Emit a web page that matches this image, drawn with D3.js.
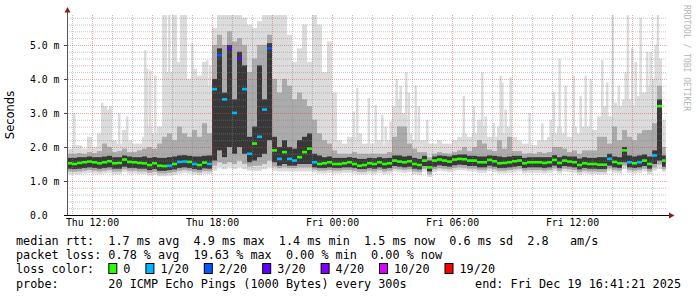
<!DOCTYPE html>
<html lang="en">
<head>
<meta charset="UTF-8">
<title>SmokePing latency</title>
<script src="https://d3js.org/d3.v7.min.js"></script>
<style>
  body { margin: 0; background: #fff; }
  svg text { font-family: "DejaVu Sans Mono", monospace; }
</style>
</head>
<body>
<div id="graph"></div>
<script>
// 15 minute steps, hours counted from Thu 00:00
const startHour = 10.75;
const stepHours = 0.25;
const endHour = 40.689; // Fri 16:41:21

const median = [
  1.52,1.50,1.53,1.55,1.57,1.55,1.52,1.55,1.58,1.52,
  1.53,1.63,1.56,1.55,1.53,1.52,1.47,1.52,1.45,1.44,
  1.45,1.50,1.56,1.57,1.56,1.50,1.47,1.54,1.50,3.70,
  4.70,3.40,4.90,3.00,4.60,3.70,1.80,2.10,2.30,3.10,
  4.90,1.90,1.65,1.85,1.65,1.60,1.70,1.85,1.95,1.55,
  1.50,1.52,1.55,1.50,1.50,1.52,1.55,1.50,1.45,1.47,
  1.52,1.50,1.55,1.50,1.52,1.60,1.57,1.55,1.58,1.50,
  1.47,1.60,1.40,1.60,1.63,1.60,1.57,1.63,1.65,1.64,
  1.60,1.60,1.55,1.55,1.62,1.58,1.52,1.53,1.55,1.58,
  1.60,1.52,1.55,1.55,1.55,1.53,1.55,1.62,1.53,1.60,
  1.57,1.55,1.47,1.52,1.50,1.50,1.48,1.48,1.65,1.56,
  1.52,1.90,1.55,1.52,1.55,1.60,1.50,1.75,3.20,1.60
];
// index into lossLabels / lossColors
const loss = [
  0,0,0,0,0,0,0,0,0,0,
  0,0,0,0,0,0,0,0,0,0,
  1,0,1,1,0,1,0,0,1,1,
  2,1,3,1,3,1,1,0,1,1,
  2,0,1,0,1,1,0,0,0,1,
  0,0,0,0,0,0,0,0,0,0,
  0,0,0,0,0,0,0,0,0,0,
  0,0,0,0,0,0,0,0,0,0,
  0,0,0,0,0,0,0,0,0,0,
  0,0,0,0,0,0,0,0,0,0,
  0,0,0,0,0,0,0,0,1,0,
  0,0,1,0,1,0,0,1,0,0
];
// ping distribution per step (ms)
const pingMin = [
  1.20,1.19,1.20,1.22,1.24,1.22,1.20,1.22,1.24,1.20,
  1.20,1.26,1.22,1.22,1.20,1.20,1.16,1.19,1.14,1.14,
  1.16,1.18,1.22,1.24,1.22,1.19,1.17,1.21,1.20,1.30,
  1.40,1.35,1.40,1.35,1.40,1.35,1.30,1.30,1.30,1.35,
  1.40,1.30,1.28,1.28,1.28,1.28,1.28,1.28,1.28,1.25,
  1.22,1.22,1.24,1.22,1.22,1.24,1.24,1.22,1.19,1.19,
  1.22,1.20,1.24,1.20,1.22,1.28,1.26,1.24,1.26,1.20,
  1.18,1.28,1.12,1.26,1.30,1.28,1.26,1.30,1.32,1.31,
  1.28,1.28,1.24,1.24,1.29,1.26,1.22,1.22,1.24,1.26,
  1.28,1.22,1.24,1.24,1.24,1.22,1.24,1.29,1.22,1.28,
  1.26,1.24,1.18,1.22,1.20,1.20,1.19,1.19,1.29,1.24,
  1.22,1.35,1.24,1.22,1.24,1.28,1.20,1.30,1.35,1.26
];
const pingP10 = [
  1.28,1.27,1.28,1.30,1.32,1.30,1.28,1.30,1.32,1.28,
  1.28,1.34,1.30,1.30,1.28,1.28,1.24,1.27,1.22,1.22,
  1.24,1.26,1.30,1.32,1.30,1.27,1.25,1.29,1.28,1.45,
  1.55,1.50,1.55,1.50,1.60,1.50,1.42,1.45,1.45,1.50,
  1.60,1.42,1.38,1.40,1.38,1.38,1.40,1.40,1.40,1.33,
  1.30,1.30,1.32,1.30,1.30,1.32,1.32,1.30,1.27,1.27,
  1.30,1.28,1.32,1.28,1.30,1.36,1.34,1.32,1.34,1.28,
  1.26,1.36,1.20,1.34,1.38,1.36,1.34,1.38,1.40,1.39,
  1.36,1.36,1.32,1.32,1.37,1.34,1.30,1.30,1.32,1.34,
  1.36,1.30,1.32,1.32,1.32,1.30,1.32,1.37,1.30,1.36,
  1.34,1.32,1.26,1.30,1.28,1.28,1.27,1.27,1.37,1.32,
  1.30,1.45,1.32,1.30,1.32,1.36,1.28,1.40,1.48,1.34
];
const pingQ1 = [
  1.36,1.35,1.36,1.38,1.40,1.38,1.36,1.38,1.40,1.36,
  1.36,1.42,1.38,1.38,1.36,1.36,1.32,1.35,1.30,1.30,
  1.32,1.34,1.38,1.40,1.38,1.35,1.33,1.37,1.36,1.60,
  1.90,1.70,2.00,1.80,2.00,1.80,1.55,1.60,1.70,1.80,
  2.20,1.55,1.45,1.50,1.45,1.45,1.50,1.50,1.50,1.40,
  1.38,1.38,1.40,1.38,1.38,1.40,1.40,1.38,1.35,1.35,
  1.38,1.36,1.40,1.36,1.38,1.44,1.42,1.40,1.42,1.36,
  1.34,1.44,1.28,1.42,1.46,1.44,1.42,1.46,1.48,1.47,
  1.44,1.44,1.40,1.40,1.45,1.42,1.38,1.38,1.40,1.42,
  1.44,1.38,1.40,1.40,1.40,1.38,1.40,1.45,1.38,1.44,
  1.42,1.40,1.34,1.38,1.36,1.36,1.35,1.35,1.45,1.40,
  1.38,1.55,1.40,1.38,1.40,1.44,1.36,1.50,1.60,1.42
];
const pingQ3 = [
  1.68,1.68,1.70,1.70,1.72,1.70,1.70,1.72,1.74,1.70,
  1.70,1.75,1.72,1.70,1.70,1.72,1.68,1.70,1.68,1.68,
  1.70,1.72,1.75,1.76,1.74,1.72,1.72,1.74,1.75,4.00,
  4.90,3.60,5.00,3.40,4.80,4.40,2.30,2.60,4.40,3.40,
  5.05,2.30,2.00,2.20,2.00,1.95,2.20,2.30,2.40,1.80,
  1.75,1.70,1.72,1.68,1.68,1.68,1.70,1.68,1.65,1.65,
  1.68,1.67,1.70,1.67,1.68,1.75,1.75,1.72,1.74,1.68,
  1.65,1.74,1.60,1.72,1.75,1.74,1.72,1.76,1.78,1.78,
  1.74,1.74,1.72,1.72,1.75,1.74,1.72,1.70,1.72,1.74,
  1.74,1.68,1.70,1.70,1.70,1.70,1.70,1.76,1.70,1.74,
  1.72,1.72,1.66,1.70,1.68,1.68,1.70,1.70,1.80,1.72,
  1.70,2.00,1.75,1.72,1.75,1.78,1.72,1.90,3.40,1.75
];
const pingP90 = [
  1.80,1.80,1.82,1.80,1.85,1.82,1.88,2.10,2.00,1.85,
  1.88,1.95,1.85,1.85,1.90,1.95,2.00,1.95,2.10,2.30,
  2.40,2.20,2.60,2.40,2.30,2.50,2.30,2.70,2.40,5.00,
  5.30,5.00,5.40,5.10,5.20,5.00,4.20,4.60,5.00,5.00,
  5.30,4.00,3.60,4.00,3.80,3.40,3.60,3.40,3.20,2.80,
  2.40,2.20,2.10,1.90,1.80,1.80,1.80,1.85,1.80,1.80,
  1.80,1.80,1.80,1.80,1.85,2.30,2.60,2.60,2.10,1.95,
  1.85,1.85,1.70,1.80,1.85,1.82,1.80,1.85,1.90,2.00,
  1.88,2.00,2.20,2.10,1.92,1.88,2.20,1.95,2.30,1.88,
  1.88,1.80,1.82,1.80,1.85,1.82,1.85,2.00,2.00,1.95,
  1.85,1.90,1.80,1.90,1.90,1.90,2.30,2.30,2.10,2.60,
  2.20,2.50,2.30,2.20,2.40,2.50,2.50,2.70,3.80,2.00
];
const pingMax = [
  1.95,2.05,2.05,1.95,2.30,2.00,2.40,3.20,3.10,2.20,
  2.10,2.50,2.20,2.10,2.10,2.30,2.60,2.40,2.60,5.90,
  4.20,5.90,4.50,5.90,4.00,4.30,4.10,4.50,3.80,5.50,
  5.90,5.90,5.90,5.90,5.90,5.80,5.60,5.50,5.70,5.90,
  5.90,5.90,5.90,5.90,5.30,4.50,4.90,5.60,4.50,5.90,
  5.60,4.20,5.10,3.60,2.20,2.10,2.30,2.30,2.40,2.10,
  2.10,2.10,2.20,2.05,2.20,3.20,3.40,3.00,2.40,2.20,
  2.20,2.20,2.10,2.10,2.20,2.10,2.10,2.20,2.30,2.40,
  2.30,2.40,2.80,2.60,2.30,2.30,2.60,2.40,2.60,2.30,
  2.20,2.10,2.10,2.05,2.20,2.20,2.30,2.40,2.60,2.40,
  2.30,2.60,2.40,2.60,2.60,2.50,2.90,3.20,2.90,3.30,
  3.20,3.40,3.40,3.20,3.50,3.60,3.80,4.00,4.60,2.80
];

// thin single outliers: time (h) and value (ms)
const spikeHours = [
  11.05,12.45,12.85,13.3,13.7,14.6,14.7,14.85,15.1,15.8,16.4,16.95,17.1,17.45,17.7,17.85,
  25.03,25.2,25.78,26.12,26.45,26.62,26.87,27.17,27.37,27.65,27.78,28.12,28.28,28.7,
  30.53,31.03,31.45,31.62,32.03,32.37,32.45,32.62,32.87,
  33.82,34.45,34.87,35.03,35.32,35.62,36.03,36.37,36.62,36.87,37.45,37.7,37.98,
  38.28,38.62,38.73,38.95,39.12,39.37,39.7,39.87,40.12,40.23
];
const spikeValues = [
  3.0,3.3,3.2,3.0,2.9,4.85,4.3,4.25,4.1,5.9,5.9,5.05,4.25,4.1,4.55,4.4,
  3.04,3.73,3.44,3.24,2.95,2.6,2.75,4.0,3.8,4.2,3.6,3.8,3.2,2.8,
  3.5,3.2,4.2,2.9,2.7,4.1,3.9,3.1,4.05,
  3.0,2.7,2.8,3.6,4.6,3.8,4.1,3.5,4.1,4.0,4.55,3.9,5.9,
  3.8,4.2,5.9,4.9,4.5,5.8,4.8,4.8,5.0,5.9
];

const lossLabels = ["0", "1/20", "2/20", "3/20", "4/20", "10/20", "19/20"];
const lossColors = ["#26ff00", "#00b8ff", "#0059ff", "#5e00ff", "#7e00ff", "#dd00ff", "#ff0000"];

const xLabelHours = [12, 18, 24, 30, 36];
const xLabelNames = ["Thu 12:00", "Thu 18:00", "Fri 00:00", "Fri 06:00", "Fri 12:00"];
const yTicks = [0, 1, 2, 3, 4, 5];

const legendRows = [
  "median rtt:  1.7 ms avg  4.9 ms max  1.4 ms min  1.5 ms now  0.6 ms sd  2.8   am/s",
  "packet loss: 0.78 % avg  19.63 % max  0.00 % min  0.00 % now",
];
const probeText = "probe:       20 ICMP Echo Pings (1000 Bytes) every 300s";
const endText = "end: Fri Dec 19 16:41:21 2025";

const width = 697, height = 297;
const svg = d3.select("#graph").append("svg")
  .attr("width", width).attr("height", height);

const x = d3.scaleLinear().domain([startHour, 40.75]).range([67, 667]);
const y = d3.scaleLinear().domain([0, 5.88]).range([215, 15]);

svg.append("defs").append("clipPath").attr("id", "plot")
  .append("rect")
  .attr("x", x(startHour)).attr("y", y(5.88))
  .attr("width", x(endHour) - x(startHour)).attr("height", y(0) - y(5.88));

const data = median.map((m, i) => ({
  t: startHour + i * stepHours,
  med: m, loss: loss[i],
  min: pingMin[i], p10: pingP10[i], q1: pingQ1[i],
  q3: pingQ3[i], p90: pingP90[i], max: pingMax[i]
}));
const stepW = x(startHour + stepHours) - x(startHour);

const smoke = svg.append("g").attr("clip-path", "url(#plot)");

// thin outliers
smoke.selectAll("rect.spike")
  .data(spikeHours.map((h, i) => ({ h: h, v: spikeValues[i] })))
  .join("rect")
  .attr("class", "spike")
  .attr("x", d => x(d.h))
  .attr("width", 2.5)
  .attr("y", d => y(d.v))
  .attr("height", d => y(1.4) - y(d.v))
  .attr("fill", "#dcdcdc");

function band(lo, hi, color) {
  smoke.append("g").selectAll("rect")
    .data(data)
    .join("rect")
    .attr("x", d => x(d.t))
    .attr("width", stepW)
    .attr("y", d => y(d[hi]))
    .attr("height", d => y(d[lo]) - y(d[hi]))
    .attr("fill", color);
}
band("min", "max", "#dcdcdc");
band("p10", "p90", "#ababab");
band("q1", "q3", "#383838");

// grid
const grid = svg.append("g");
const minorH = d3.range(1, 30).map(k => k * 0.2).filter(v => Math.abs(v - Math.round(v)) > 0.01);
const minorX = d3.range(11, 41).filter(h => h % 3 !== 0);
const majorX = d3.range(12, 41, 3);

grid.selectAll("line.hmin").data(minorH).join("line")
  .attr("x1", 67).attr("x2", 667)
  .attr("y1", d => y(d) + 0.5).attr("y2", d => y(d) + 0.5)
  .attr("stroke", "rgba(130,130,130,0.45)").attr("stroke-dasharray", "1,1");
grid.selectAll("line.vmin").data(minorX).join("line")
  .attr("x1", d => x(d) + 0.5).attr("x2", d => x(d) + 0.5)
  .attr("y1", 15).attr("y2", 217)
  .attr("stroke", "rgba(130,130,130,0.45)").attr("stroke-dasharray", "1,1");
grid.selectAll("line.hmaj").data(yTicks.slice(1)).join("line")
  .attr("x1", 64).attr("x2", 667)
  .attr("y1", d => y(d) + 0.5).attr("y2", d => y(d) + 0.5)
  .attr("stroke", "rgba(220,60,60,0.45)").attr("stroke-dasharray", "1,1");
grid.selectAll("line.vmaj").data(majorX).join("line")
  .attr("x1", d => x(d) + 0.5).attr("x2", d => x(d) + 0.5)
  .attr("y1", 15).attr("y2", 218)
  .attr("stroke", "rgba(220,60,60,0.45)").attr("stroke-dasharray", "1,1");

// median, coloured by loss
svg.append("g").attr("clip-path", "url(#plot)")
  .selectAll("rect").data(data).join("rect")
  .attr("x", d => x(d.t))
  .attr("width", stepW)
  .attr("y", d => y(d.med) - 1.3)
  .attr("height", 2.6)
  .attr("fill", d => lossColors[d.loss]);

// axes
const xAxis = svg.append("g")
  .attr("transform", `translate(0,${y(0)})`)
  .call(d3.axisBottom(x).tickValues(xLabelHours)
    .tickFormat((d, i) => xLabelNames[i]).tickSize(0).tickPadding(4));
xAxis.select(".domain").remove();
xAxis.selectAll("text").attr("font-size", "9.8px").attr("fill", "#000")
  .attr("font-family", "DejaVu Sans Mono");

const yAxis = svg.append("g")
  .attr("transform", `translate(${x(startHour)},0)`)
  .call(d3.axisLeft(y).tickValues(yTicks)
    .tickFormat(d => d === 0 ? "0.0" : d.toFixed(1) + " m").tickSize(3));
yAxis.select(".domain").remove();
yAxis.selectAll("line").attr("stroke", "#444");
yAxis.selectAll("text").attr("text-anchor", "start").attr("x", 30 - 67)
  .attr("font-size", "9.8px").attr("fill", "#000").attr("font-family", "DejaVu Sans Mono");

svg.append("line").attr("x1", 67.5).attr("x2", 67.5).attr("y1", 12).attr("y2", 216)
  .attr("stroke", "#555");
svg.append("line").attr("x1", 64).attr("x2", 670).attr("y1", 215.5).attr("y2", 215.5)
  .attr("stroke", "#000");
svg.append("path").attr("d", "M64.5,12.5 L67.5,7 L70.5,12.5 Z").attr("fill", "#8b1a1a");
svg.append("path").attr("d", "M669,212.5 L674.5,215.5 L669,218.5 Z").attr("fill", "#8b1a1a");

svg.append("text")
  .attr("transform", `translate(14,${(y(0) + y(5.88)) / 2}) rotate(-90)`)
  .attr("text-anchor", "middle")
  .style("font-family", "'DejaVu Sans', sans-serif")
  .attr("font-size", "11.5px")
  .text("Seconds");

svg.append("text")
  .attr("transform", "translate(684,5) rotate(90)")
  .attr("font-size", "8px").attr("fill", "#b4b4b4")
  .text("RRDTOOL / TOBI OETIKER");

// legend
const charW = 7.1, legX = 16;
const legend = svg.append("g").attr("font-size", "11.8px").attr("fill", "#000");
legend.selectAll("text.row").data(legendRows).join("text")
  .attr("class", "row")
  .attr("x", legX).attr("y", (d, i) => 245 + i * 14)
  .attr("xml:space", "preserve").style("white-space", "pre")
  .text(d => d);

legend.append("text").attr("x", legX).attr("y", 273).text("loss color:");
let lx = legX + 13 * charW;
lossLabels.forEach((lab, i) => {
  legend.append("rect").attr("x", lx + 0.5).attr("y", 263.5)
    .attr("width", 8).attr("height", 10)
    .attr("fill", lossColors[i]).attr("stroke", "#000");
  legend.append("text").attr("x", lx + 15).attr("y", 273).text(lab);
  lx += 15 + lab.length * charW + 15;
});

legend.append("text").attr("x", legX).attr("y", 288)
  .attr("xml:space", "preserve").style("white-space", "pre").text(probeText);
legend.append("text").attr("x", 681).attr("y", 288).attr("text-anchor", "end").text(endText);
</script>
</body>
</html>
